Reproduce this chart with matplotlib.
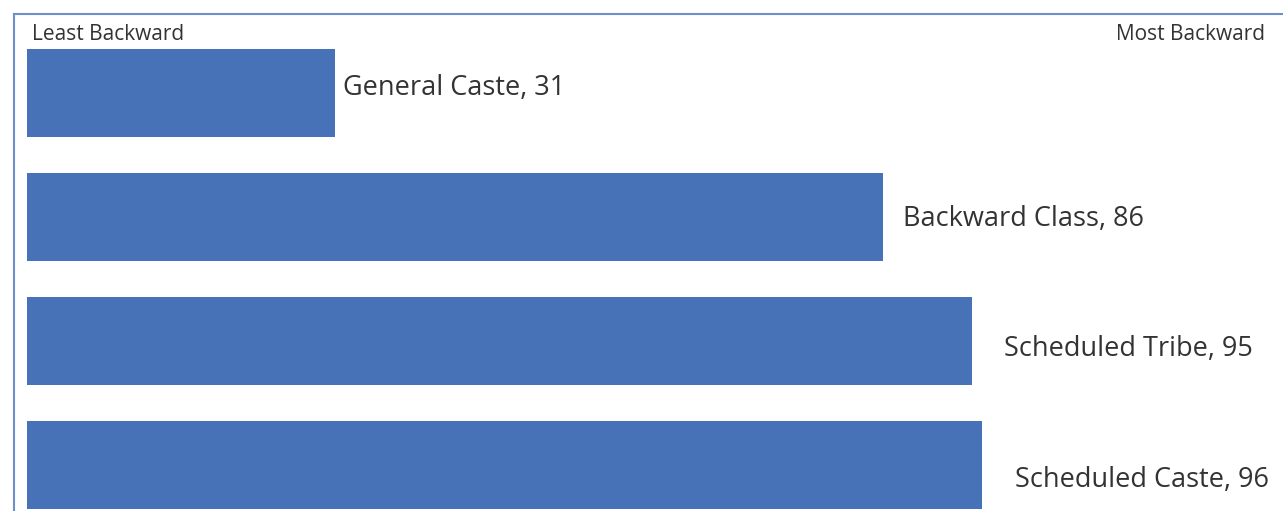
import matplotlib
matplotlib.use("Agg")
import matplotlib.pyplot as plt

categories = ["General Caste", "Backward Class", "Scheduled Tribe", "Scheduled Caste"]
values = [31, 86, 95, 96]

# label placement offsets (pixels) - style only
label_dx = [8, 20, 32, 33]
label_dy = [5, -2, -8, -15]

W, H = 1283, 511
fig = plt.figure(figsize=(W / 100, H / 100), dpi=100)
fig.patch.set_facecolor("white")

px = 9.95  # pixels per unit
x0 = 27
top, bottom = 14, 511
pitch = 124
c0 = 93
ax = fig.add_axes([x0 / W, 0, (W - x0) / W, (bottom - top) / H])
ax.set_xlim(0, (W - x0) / px)
ax.set_ylim((bottom - c0) / pitch, (top - c0) / pitch)
ax.barh(range(len(values)), values, height=88 / pitch, color="#4872B8")
ax.axis("off")

font = "Open Sans"
for i, (c, v) in enumerate(zip(categories, values)):
    ax.annotate(f"{c}, {v}", xy=(v, i), xytext=(label_dx[i], label_dy[i]),
                textcoords="offset pixels", ha="left", va="center",
                fontsize=19.5, color="#333333", family=font)

fig.text(32 / W, 1 - 34 / H, "Least Backward", ha="left", va="center",
         fontsize=15, color="#333333", family=font)
fig.text(1265 / W, 1 - 34 / H, "Most Backward", ha="right", va="center",
         fontsize=15, color="#333333", family=font)

# frame lines
fig.add_artist(plt.Line2D([14 / W, 14 / W], [0, 1 - 14 / H], color="#6E8FCB", lw=1.5))
fig.add_artist(plt.Line2D([14 / W, 1], [1 - 14 / H, 1 - 14 / H], color="#6E8FCB", lw=1.5))

fig.savefig("out.png", dpi=100)
